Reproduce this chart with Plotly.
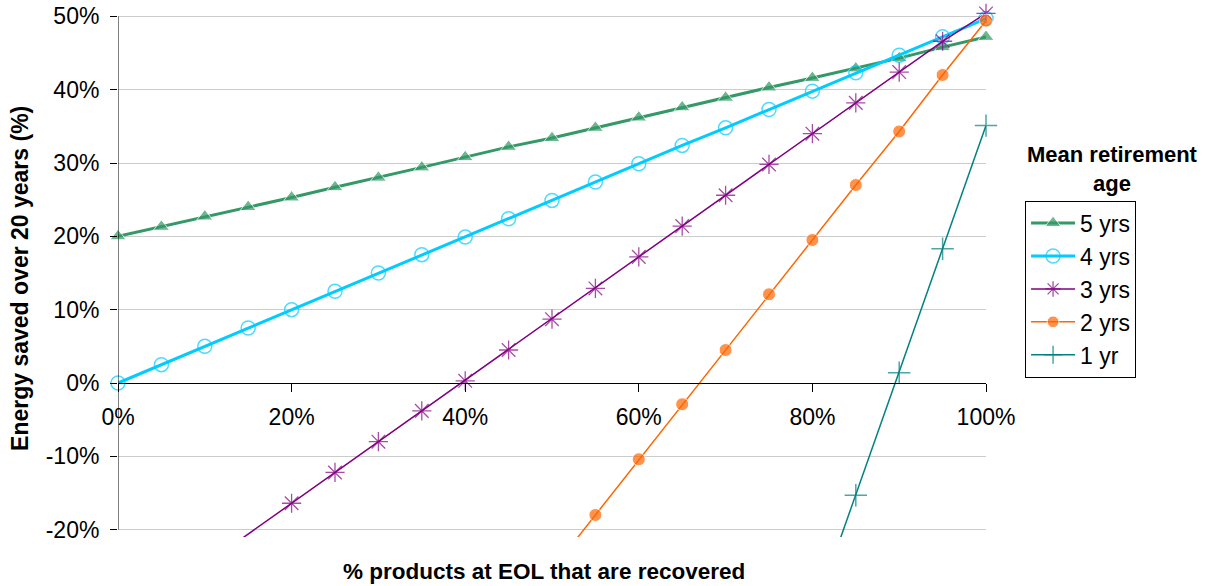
import plotly.graph_objects as go

x_pct = [0, 5, 10, 15, 20, 25, 30, 35, 40, 45, 50, 55, 60, 65, 70, 75, 80, 85, 90, 95, 100]

yrs5 = [20.0, 21.3, 22.7, 24.0, 25.3, 26.7, 28.0, 29.4, 30.8, 32.2, 33.4, 34.8, 36.2, 37.6, 38.9, 40.3, 41.6, 42.9, 44.3, 45.8, 47.2]
yrs4 = [0.0, 2.5, 5.0, 7.5, 10.0, 12.5, 15.0, 17.5, 19.9, 22.4, 24.9, 27.4, 29.9, 32.4, 34.8, 37.3, 39.8, 42.3, 44.7, 47.2, 49.7]
yrs3 = [-33.2, -29.0, -24.8, -20.6, -16.4, -12.2, -8.0, -3.8, 0.3, 4.5, 8.7, 12.9, 17.2, 21.4, 25.6, 29.8, 34.0, 38.2, 42.4, 46.6, 50.4]
x2 = [50, 55, 60, 65, 70, 75, 80, 85, 90, 95, 100]
yrs2 = [-25.5, -18.0, -10.4, -2.9, 4.5, 12.1, 19.5, 27.0, 34.3, 42.0, 49.4]
x1 = [80, 85, 90, 95, 100]
yrs1 = [-32.0, -15.3, 1.4, 18.3, 35.1]

x_ticks = [0, 20, 40, 60, 80, 100]
x_tick_labels = ["0%", "20%", "40%", "60%", "80%", "100%"]
y_ticks = [-20, -10, 0, 10, 20, 30, 40, 50]
y_tick_labels = ["-20%", "-10%", "0%", "10%", "20%", "30%", "40%", "50%"]

Y_MIN, Y_MAX = -21, 51
AXIS_BOTTOM = -20

FONT = "Liberation Sans, Arial, sans-serif"


def sizes(vals, s):
    return [0 if v < AXIS_BOTTOM else s for v in vals]


fig = go.Figure()

fig.add_trace(go.Scatter(
    x=x_pct, y=yrs5, name="5 yrs", mode="lines+markers", cliponaxis=False,
    line=dict(color="#339966", width=3),
    marker=dict(symbol="triangle-up", size=sizes(yrs5, 14), color="#339966"),
))
fig.add_trace(go.Scatter(
    x=x_pct, y=yrs4, name="4 yrs", mode="lines+markers", cliponaxis=False,
    line=dict(color="#00CCFF", width=3),
    marker=dict(symbol="circle-open", size=sizes(yrs4, 14), color="#00CCFF",
                line=dict(width=1.5, color="#00CCFF")),
))
fig.add_trace(go.Scatter(
    x=x_pct, y=yrs3, name="3 yrs", mode="lines+markers", cliponaxis=False,
    line=dict(color="#800080", width=1.5),
    marker=dict(symbol="asterisk-open", size=sizes(yrs3, 16), color="#800080",
                line=dict(width=1.3, color="#800080")),
))
fig.add_trace(go.Scatter(
    x=x2, y=yrs2, name="2 yrs", mode="lines+markers", cliponaxis=False,
    line=dict(color="#FF6600", width=1.5),
    marker=dict(symbol="circle", size=sizes(yrs2, 13), color="#FF6600"),
))
fig.add_trace(go.Scatter(
    x=x1, y=yrs1, name="1 yr", mode="lines+markers", cliponaxis=False,
    line=dict(color="#008080", width=1.5),
    marker=dict(symbol="cross-thin-open", size=sizes(yrs1, 16), color="#008080",
                line=dict(width=1.5, color="#008080")),
))

# y axis line from -20% to 50%
fig.add_shape(type="line", xref="x", yref="y", x0=0, x1=0, y0=AXIS_BOTTOM, y1=50,
              line=dict(color="black", width=1), layer="above")

fig.add_annotation(text="<b>Mean retirement<br>age</b>", xref="paper", yref="paper",
                   x=1.1452, y=0.697, xanchor="center", yanchor="middle", showarrow=False,
                   font=dict(family=FONT, size=22, color="black"))
fig.add_annotation(text="<b>% products at EOL that are recovered</b>", xref="paper", yref="paper",
                   x=0.4908, y=-0.0644, xanchor="center", yanchor="middle", showarrow=False,
                   font=dict(family=FONT, size=22.5, color="black"))
fig.add_annotation(text="<b>Energy saved over 20 years (%)</b>", xref="paper", yref="paper",
                   x=-0.1130, y=0.4905, xanchor="center", yanchor="middle", showarrow=False,
                   textangle=-90, font=dict(family=FONT, size=23, color="black"))

fig.update_layout(
    width=1209, height=586,
    margin=dict(l=118, r=223, t=9, b=49, autoexpand=False),
    paper_bgcolor="white", plot_bgcolor="white",
    font=dict(family=FONT, size=23, color="black"),
    showlegend=True,
    legend=dict(x=1.045, y=0.637, xanchor="left", yanchor="top",
                bordercolor="black", borderwidth=1, bgcolor="white",
                font=dict(family=FONT, size=23, color="black"),
                itemwidth=44, tracegroupgap=0),
    xaxis=dict(range=[0, 100], tickvals=x_ticks, ticktext=x_tick_labels,
               showgrid=False, zeroline=False, showline=True, linecolor="black", linewidth=1,
               ticks="outside", ticklen=8, tickcolor="black",
               anchor="free", position=(0 - Y_MIN) / (Y_MAX - Y_MIN),
               ticklabelstandoff=5),
    yaxis=dict(range=[Y_MIN, Y_MAX], tickvals=y_ticks, ticktext=y_tick_labels,
               showgrid=True, gridcolor="#CCCCCC", gridwidth=1,
               zeroline=False, showline=False,
               ticks="outside", ticklen=7, tickcolor="black",
               ticklabelstandoff=6, ticklabeloverflow="allow"),
)

# remove the default 8px page margin so the figure fills the window exactly
fig.write_html("out.html",
               config={"displayModeBar": False},
               post_script="document.body.style.margin='0';document.body.style.overflow='hidden';")
